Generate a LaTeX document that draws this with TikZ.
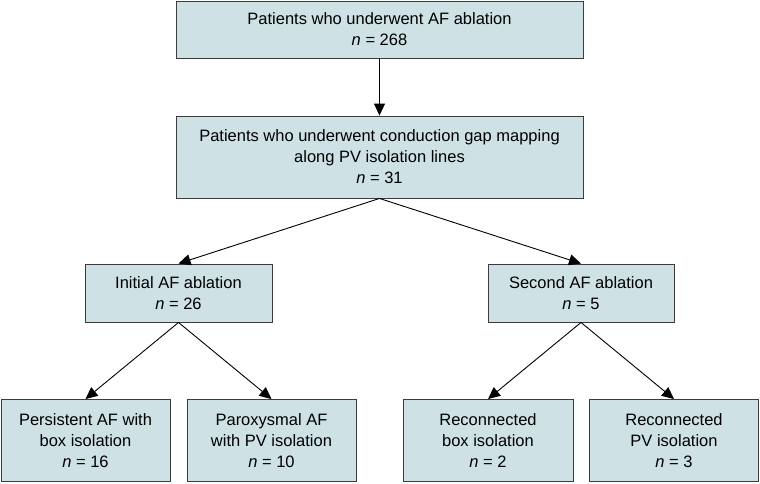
\documentclass[tikz,border=0pt]{standalone}
\usepackage{fontspec}
\setmainfont{Liberation Sans}
\usepackage{xcolor}
\usepackage{tikz}
\usetikzlibrary{arrows.meta}

\definecolor{boxfill}{RGB}{206,226,230}
\definecolor{boxline}{RGB}{60,60,60}

\begin{document}
\begin{tikzpicture}[x=1pt, y=-1pt,
      stage/.style={rectangle, draw=boxline, fill=boxfill, line width=0.9pt,
        inner sep=0pt, align=center, font=\fontsize{16.5}{21}\selectfont},
      flow/.style={-{Triangle[length=12pt, width=11pt]}, line width=0.9pt}]
      \useasboundingbox (0, 0) rectangle (760, 483);
      \node[stage, minimum width=407, minimum height=57] (all) at (379.5, 29.5)
      {Patients who underwent AF ablation\\ \textit{n} = 268};
      \node[stage, minimum width=407, minimum height=82] (gap) at (379.5, 157)
      {Patients who underwent conduction gap mapping\\ along PV isolation lines\\
        \textit{n} = 31};
      \node[stage, minimum width=187, minimum height=58] (first) at (178.5, 293)
      {Initial AF ablation\\ \textit{n} = 26};
      \node[stage, minimum width=186, minimum height=58] (redo) at (581, 293)
      {Second AF ablation\\ \textit{n} = 5};
      \node[stage, minimum width=169, minimum height=82] (persist) at (85.5, 440.5)
      {Persistent AF with\\ box isolation\\ \textit{n} = 16};
      \node[stage, minimum width=169, minimum height=82] (parox) at (271.5, 440.5)
      {Paroxysmal AF\\ with PV isolation\\ \textit{n} = 10};
      \node[stage, minimum width=170, minimum height=82] (recbox) at (488, 440.5)
      {Reconnected\\ box isolation\\ \textit{n} = 2};
      \node[stage, minimum width=169, minimum height=82] (recpv) at (674, 440.5)
      {Reconnected\\ PV isolation\\ \textit{n} = 3};
      \draw[flow] (all.south) -- (gap.north);
      \draw[flow] (gap.south) -- (first.north);
      \draw[flow] (gap.south) -- (redo.north);
      \draw[flow] (first.south) -- (persist.north);
      \draw[flow] (first.south) -- (parox.north);
      \draw[flow] (redo.south) -- (recbox.north);
      \draw[flow] (redo.south) -- (recpv.north);
    \end{tikzpicture}
\end{document}
